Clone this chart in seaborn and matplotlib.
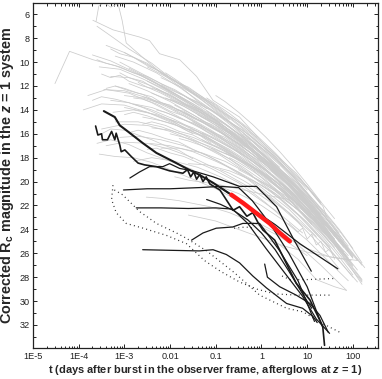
import numpy as np
import pandas as pd
import matplotlib
matplotlib.use("Agg")
import matplotlib.pyplot as plt
import seaborn as sns
from matplotlib.ticker import FixedLocator, FixedFormatter, MultipleLocator, LogLocator, NullFormatter

sns.set_style("ticks")
plt.rcParams['font.family'] = ['Liberation Sans', 'DejaVu Sans']
plt.rcParams['mathtext.fontset'] = 'custom'
plt.rcParams['mathtext.rm'] = 'Liberation Sans'
plt.rcParams['mathtext.it'] = 'Liberation Sans:italic'
plt.rcParams['mathtext.bf'] = 'Liberation Sans:bold'
plt.rcParams['mathtext.bfit'] = 'Liberation Sans:bold:italic'

# ---- data: log10(t [days]) and corrected Rc magnitude ----
gray_logt = [
    [-3.62,-3.56,-3.45,-3.30,-3.14,-3.05,-2.96,-2.60,-2.20,-1.70,-1.20],
    [-3.69,-3.25,-2.67,-2.45,-2.23,-1.79,-1.42,-1.06,-0.48,0.11,0.76,1.35,1.42],
    [-4.52,-4.20,-3.69,-3.20,-2.60,-2.00,-1.40,-0.80,-0.20,0.40],
    [-3.60,-3.30,-2.90,-2.40,-1.90,-1.30,-0.70,-0.10,0.50,1.10],
    [-3.40,-3.00,-2.50,-2.00,-1.50,-1.00,-0.40,0.20,0.80,1.30],
    [-3.20,-2.80,-2.30,-1.80,-1.20,-0.60,0.00,0.60,1.20,1.70],
    [-3.55,-3.10,-2.60,-2.10,-1.60,-1.00,-0.50,0.10,0.70,1.40],
    [-3.30,-2.90,-2.40,-1.90,-1.40,-0.90,-0.30,0.30,0.90,1.50],
    [-3.10,-2.70,-2.20,-1.70,-1.10,-0.50,0.10,0.70,1.30,1.90],
    [-2.90,-2.50,-2.00,-1.50,-1.00,-0.40,0.20,0.80,1.40,2.00],
    [-3.45,-3.00,-2.50,-2.00,-1.40,-0.80,-0.20,0.40,1.00,1.60],
    [-2.70,-2.30,-1.80,-1.30,-0.80,-0.20,0.40,1.00,1.60],
    [-2.50,-2.10,-1.60,-1.10,-0.60,0.00,0.60,1.20,1.80],
    [-3.00,-2.60,-2.10,-1.60,-1.10,-0.50,0.10,0.70,1.30],
    [-3.80,-3.40,-2.90,-2.40,-1.90,-1.30,-0.70,-0.10,0.50,1.10],
    [-2.80,-2.40,-1.90,-1.40,-0.90,-0.30,0.30,0.90,1.50,2.10],
    [-2.30,-1.90,-1.40,-0.90,-0.40,0.20,0.80,1.40],
    [-2.10,-1.70,-1.20,-0.70,-0.20,0.40,1.00,1.60],
    [-3.25,-2.80,-2.30,-1.80,-1.30,-0.70,-0.10,0.50,1.10],
    [-1.90,-1.50,-1.00,-0.50,0.00,0.60,1.20,1.80],
    [-2.60,-2.20,-1.70,-1.20,-0.70,-0.10,0.50,1.10,1.70],
    [-3.50,-3.00,-2.50,-2.00,-1.50,-0.90,-0.30,0.30,0.90,1.50],
    [-1.70,-1.30,-0.80,-0.30,0.20,0.80,1.40,2.00],
    [-2.40,-2.00,-1.50,-1.00,-0.50,0.10,0.70,1.30,1.90],
    [-1.50,-1.10,-0.60,-0.10,0.40,1.00,1.60,2.20],
    [-3.10,-2.70,-2.20,-1.70,-1.20,-0.60,0.00,0.60,1.20],
    [-2.00,-1.60,-1.10,-0.60,-0.10,0.50,1.10,1.70],
    [-1.30,-0.90,-0.40,0.10,0.60,1.20,1.80],
    [-3.40,-3.00,-2.50,-2.00,-1.50,-0.90,-0.30,0.30],
    [-2.20,-1.80,-1.30,-0.80,-0.30,0.30,0.90,1.50],
    [-1.10,-0.70,-0.20,0.30,0.80,1.40,2.00],
    [-0.80,-0.40,0.10,0.60,1.10,1.70,2.26],
    [-2.80,-2.40,-1.90,-1.40,-0.90,-0.30,0.30,0.90],
    [-1.60,-1.20,-0.70,-0.20,0.30,0.90,1.50,2.00],
    [-0.50,-0.10,0.40,0.90,1.40,1.90],
    [-0.20,0.20,0.70,1.20,1.70,2.10],
    [-3.55,-3.20,-2.80,-2.40,-2.00,-1.50,-1.00,-0.40,0.20],
    [-2.52,-2.20,-1.80,-1.40,-1.13,-0.70,-0.20,0.40,1.00],
    [-0.20,0.30,0.80,1.30,1.86],
    [0.00,0.50,1.00,1.50,1.96],
    [-1.00,-0.50,0.00,0.50,1.00,1.50,1.90],
    [-1.90,-1.57,-1.00,-0.40,0.20,0.61,1.10],
    [-1.60,-1.00,-0.50,0.00,0.50,1.00,1.50,2.10],
    [0.30,0.80,1.20,1.60,1.86],
    [-3.60,-3.30,-2.90,-2.50,-2.00,-1.50],
    [-3.00,-2.50,-2.00,-1.50,-1.00,-0.50,0.00,0.50,1.00],
    [-2.60,-2.10,-1.60,-1.10,-0.60,-0.10,0.40,0.90,1.40],
    [-3.30,-2.90,-2.40,-1.90,-1.40,-0.80,-0.20,0.40],
    [-2.00,-1.50,-1.00,-0.50,0.00,0.50,1.00,1.50],
    [-1.40,-0.90,-0.40,0.10,0.60,1.10,1.60],
    [-2.90,-2.50,-2.00,-1.50,-1.00,-0.40,0.20],
    [-3.70,-3.30,-2.80,-2.30,-1.80,-1.30],
    [-2.20,-1.70,-1.20,-0.70,-0.20,0.30,0.80,1.30],
    [-1.20,-0.70,-0.20,0.30,0.80,1.30],
    [-0.60,-0.10,0.40,0.90,1.40,1.90],
    [-2.45,-2.00,-1.50,-1.00,-0.50,0.00,0.50,1.00,1.50],
    [-3.90,-3.50,-3.00,-2.50,-2.00,-1.50],
    [-1.80,-1.30,-0.80,-0.30,0.20,0.70,1.20,1.70],
    [-3.20,-2.70,-2.20,-1.70,-1.20,-0.70,-0.20],
    [0.10,0.60,1.10,1.60,2.10],
    [-3.5,-3.3,-3.1,-2.9,-2.6,-2.3,-2.0,-1.7,-1.4,-1.1,-0.8,-0.5,-0.2,0.1,0.4,0.7,1.0,1.3],
    [-3.2,-3.0,-2.7,-2.4,-2.1,-1.8,-1.5,-1.2,-0.9,-0.6,-0.3,0.0,0.3,0.6,0.9,1.2,1.5],
    [-2.8,-2.6,-2.3,-2.0,-1.7,-1.4,-1.1,-0.8,-0.5,-0.2,0.1,0.4,0.7,1.0,1.3,1.6,1.9],
    [-3.6,-3.4,-3.1,-2.8,-2.5,-2.2,-1.9,-1.6,-1.3,-1.0,-0.7,-0.4,-0.1,0.2,0.5],
    [-2.4,-2.2,-1.9,-1.6,-1.3,-1.0,-0.7,-0.4,-0.1,0.2,0.5,0.8,1.1,1.4,1.7,2.0],
    [-1.9,-1.7,-1.4,-1.1,-0.8,-0.5,-0.2,0.1,0.4,0.7,1.0,1.3,1.6,1.9,2.2],
    [-3.0,-2.8,-2.5,-2.2,-1.9,-1.6,-1.3,-1.0,-0.7,-0.4,-0.1,0.2,0.5,0.8,1.1,1.4],
    [-2.2,-2.0,-1.7,-1.4,-1.1,-0.8,-0.5,-0.2,0.1,0.4,0.7,1.0,1.3,1.6],
    [-1.6,-1.4,-1.1,-0.8,-0.5,-0.2,0.1,0.4,0.7,1.0,1.3,1.6,1.9],
    [-3.4,-3.2,-2.9,-2.6,-2.3,-2.0,-1.7,-1.4,-1.1,-0.8,-0.5,-0.2,0.1],
    [-2.6,-2.4,-2.1,-1.8,-1.5,-1.2,-0.9,-0.6,-0.3,0.0,0.3,0.6,0.9,1.2,1.5,1.8],
    [-1.3,-1.1,-0.8,-0.5,-0.2,0.1,0.4,0.7,1.0,1.3,1.6,1.9,2.2],
    [-2.0,-1.8,-1.5,-1.2,-0.9,-0.6,-0.3,0.0,0.3,0.6,0.9,1.2,1.5,1.8],
    [-3.3,-3.1,-2.8,-2.5,-2.2,-1.9,-1.6,-1.3,-1.0,-0.7,-0.4,-0.1],
    [-2.5,-2.3,-2.0,-1.7,-1.4,-1.1,-0.8,-0.5,-0.2,0.1,0.4,0.7,1.0],
    [-1.0,-0.8,-0.5,-0.2,0.1,0.4,0.7,1.0,1.3,1.6,1.9],
    [-0.7,-0.5,-0.2,0.1,0.4,0.7,1.0,1.3,1.6,1.9,2.2],
    [-3.7,-3.5,-3.2,-2.9,-2.6,-2.3,-2.0,-1.7,-1.4,-1.1],
    [-2.9,-2.7,-2.4,-2.1,-1.8,-1.5,-1.2,-0.9,-0.6,-0.3,0.0,0.3,0.6,0.9],
    [-0.3,-0.1,0.2,0.5,0.8,1.1,1.4,1.7,2.0],
    [-1.5,-1.3,-1.0,-0.7,-0.4,-0.1,0.2,0.5,0.8,1.1,1.4,1.7],
    [-2.3,-2.1,-1.8,-1.5,-1.2,-0.9,-0.6,-0.3,0.0,0.3,0.6,0.9,1.2],
    [0.2,0.4,0.7,1.0,1.3,1.6,1.9,2.2],
    [-3.1,-2.9,-2.6,-2.3,-2.0,-1.7,-1.4,-1.1,-0.8,-0.5],
    [-1.2,-1.0,-0.7,-0.4,-0.1,0.2,0.5,0.8,1.1,1.4,1.7,2.0],
    [-0.9,-0.7,-0.4,-0.1,0.2,0.5,0.8,1.1,1.4,1.7],
    [-2.7,-2.5,-2.2,-1.9,-1.6,-1.3,-1.0,-0.7,-0.4,-0.1,0.2,0.5],
    [-1.8,-1.6,-1.3,-1.0,-0.7,-0.4,-0.1,0.2,0.5,0.8,1.1,1.4,1.7,2.0],
    [-3.5,-3.3,-3.0,-2.7,-2.4,-2.1,-1.8,-1.5],
    [0.5,0.7,1.0,1.3,1.6,1.9,2.2],
    [-2.1,-1.9,-1.6,-1.3,-1.0,-0.7,-0.4,-0.1,0.2,0.5,0.8,1.1],
    [-1.0,-0.8,-0.5,-0.2,0.1,0.4,0.7,1.0,1.3],
    [-0.4,-0.2,0.1,0.4,0.7,1.0,1.3,1.6,1.9],
    [-2.5,-2.3,-2.0,-1.7,-1.4,-1.1,-0.8,-0.5,-0.2,0.1,0.4],
    [0.0,0.2,0.5,0.8,1.1,1.4,1.7,2.0],
    [-3.0,-2.8,-2.5,-2.2,-1.9,-1.6,-1.3,-1.0,-0.7],
    [0.6,0.8,0.9,1.0,1.1,1.2,1.3,1.4,1.5,1.6],
]
gray_mag = [
    [6.6,5.3,5.0,5.4,5.1,6.5,8.4,9.6,10.9,12.3,13.9],
    [6.5,7.3,7.9,8.2,9.3,9.8,11.2,13.2,14.6,17.1,19.3,22.1,22.9],
    [11.8,9.1,9.8,10.3,11.2,12.4,13.7,15.2,16.9,18.8],
    [7.0,7.8,8.9,10.1,11.6,13.2,15.0,17.2,19.6,22.4],
    [8.6,9.2,10.2,11.3,12.6,14.0,15.9,18.1,20.5,22.8],
    [9.5,10.0,10.9,12.1,13.7,15.5,17.6,19.8,22.5,25.0],
    [10.4,10.6,11.4,12.3,13.5,15.0,16.4,18.6,21.0,24.0],
    [11.2,11.3,12.0,13.0,14.2,15.4,17.1,19.2,21.6,24.3],
    [10.0,10.8,11.8,12.8,14.3,16.0,18.0,20.3,23.0,25.8],
    [10.5,11.3,12.4,13.5,14.8,16.6,18.6,21.0,23.6,26.4],
    [12.3,12.4,13.0,13.9,15.1,16.6,18.3,20.3,22.8,25.5],
    [11.0,11.8,12.9,14.1,15.4,17.3,19.5,22.0,24.8],
    [11.6,12.4,13.4,14.6,16.0,17.9,20.0,22.6,25.5],
    [12.8,13.0,13.6,14.6,15.7,17.2,19.0,21.2,23.8],
    [12.8,12.3,12.6,13.4,14.4,15.6,17.0,18.8,21.0,23.6],
    [13.5,13.8,14.5,15.3,16.3,17.8,19.6,21.8,24.5,27.4],
    [12.2,13.0,14.1,15.3,16.6,18.6,20.9,23.7],
    [13.0,13.7,14.8,16.0,17.5,19.4,21.7,24.6],
    [14.2,14.0,14.4,15.1,16.0,17.4,19.0,21.0,23.5],
    [13.6,14.4,15.5,16.8,18.3,20.3,22.9,25.9],
    [14.6,14.9,15.5,16.3,17.3,18.8,20.6,22.8,25.6],
    [15.6,15.2,15.3,15.8,16.6,17.8,19.3,21.0,23.1,25.6],
    [14.2,15.0,16.1,17.4,18.9,20.9,23.4,26.3],
    [15.5,15.7,16.3,17.1,18.1,19.6,21.4,23.7,26.4],
    [15.0,15.8,16.9,18.2,19.7,21.6,24.2,27.0],
    [16.3,16.2,16.5,17.0,17.8,19.0,20.5,22.3,24.6],
    [16.0,16.4,17.1,18.0,19.2,20.9,23.0,25.7],
    [15.9,16.7,17.8,19.1,20.6,22.7,25.3],
    [17.0,16.7,16.8,17.3,18.0,19.1,20.4,22.0],
    [17.2,17.2,17.6,18.3,19.3,20.8,22.7,25.1],
    [17.2,17.8,18.8,20.0,21.5,23.6,26.2],
    [17.6,18.3,19.4,20.7,22.3,24.6,27.2],
    [18.3,18.0,18.3,18.8,19.6,20.8,22.4,24.3],
    [18.5,18.6,19.1,19.9,21.0,22.6,24.8,27.0],
    [19.0,19.8,21.0,22.4,24.1,26.2],
    [19.6,20.4,21.6,23.0,24.8,26.6],
    [17.7,17.9,18.0,18.4,19.0,19.8,20.6,21.8,23.4],
    [21.3,21.4,21.6,21.9,22.1,22.6,23.4,24.6,26.2],
    [22.5,23.8,25.3,27.0,29.1],
    [23.6,24.6,25.6,26.3,26.6],
    [20.3,21.0,22.0,23.3,24.9,26.8,28.3],
    [19.6,19.9,20.2,20.7,21.2,21.5,22.8],
    [22.8,23.3,24.0,24.7,25.4,25.9,26.3,26.6],
    [25.0,26.5,28.2,28.8,29.1],
    [16.8,16.5,16.9,17.6,18.3,19.0],
    [13.8,14.2,14.9,15.8,16.8,17.9,19.2,20.8,22.6],
    [12.9,13.5,14.4,15.4,16.6,18.0,19.6,21.5,23.6],
    [13.2,13.4,14.0,14.8,15.8,17.3,19.0,21.0],
    [14.8,15.5,16.4,17.5,18.8,20.4,22.3,24.5],
    [14.4,15.5,16.7,18.2,19.9,21.9,24.3],
    [11.8,12.4,13.3,14.4,15.6,17.3,19.3],
    [9.4,9.9,10.8,11.8,12.9,14.1],
    [11.3,12.2,13.3,14.6,16.1,17.9,20.0,22.5],
    [13.0,14.3,15.8,17.6,19.6,21.8],
    [16.2,17.6,19.1,20.9,23.0,25.4],
    [16.8,17.0,17.5,18.3,19.2,20.3,21.7,23.4,25.5],
    [14.0,13.5,13.6,14.2,15.0,16.0],
    [12.6,13.6,14.8,16.2,17.8,19.6,21.8,24.3],
    [15.0,15.0,15.4,16.1,17.0,18.1,19.5],
    [21.2,22.6,24.3,26.2,28.4],
    [11.0,11.3,11.1,11.6,12.0,12.3,12.9,13.5,13.9,14.6,15.2,16.0,16.6,17.5,18.4,19.5,20.5,21.9],
    [12.0,12.2,12.6,12.9,13.6,14.0,14.7,15.2,15.8,16.6,17.2,18.1,19.0,19.9,21.0,22.1,23.5],
    [13.0,13.1,13.5,14.1,14.5,15.2,15.8,16.3,17.1,17.9,18.6,19.6,20.6,21.7,22.9,24.3,25.9],
    [9.8,10.1,10.4,10.9,11.2,11.8,12.3,13.0,13.5,14.2,15.0,15.7,16.7,17.6,18.8],
    [12.6,12.9,13.3,13.9,14.6,15.1,15.9,16.5,17.4,18.3,19.3,20.2,21.4,22.6,24.0,25.6],
    [14.0,14.1,14.8,15.2,15.9,16.7,17.4,18.2,19.2,20.1,21.2,22.3,23.6,25.1,26.8],
    [14.4,14.2,14.5,14.9,15.2,15.8,16.2,16.9,17.5,18.3,19.0,19.9,20.8,21.9,23.0,24.4],
    [11.9,12.3,12.8,13.5,14.0,14.8,15.5,16.3,17.3,18.2,19.3,20.4,21.7,23.1],
    [15.6,15.8,16.3,16.9,17.5,18.3,19.1,20.0,21.1,22.2,23.5,24.9,26.5],
    [12.2,12.0,12.4,12.7,13.3,13.6,14.3,14.8,15.5,16.1,16.9,17.7,18.6],
    [15.2,15.0,15.3,15.8,16.1,16.7,17.2,17.9,18.5,19.4,20.2,21.2,22.2,23.4,24.7,26.1],
    [16.5,16.9,17.4,18.1,18.8,19.6,20.6,21.6,22.7,24.0,25.3,26.8,28.3],
    [13.1,13.4,13.9,14.4,15.2,15.9,16.7,17.6,18.6,19.6,20.8,22.0,23.4,24.9],
    [8.9,9.3,9.6,10.3,10.8,11.6,12.1,12.9,13.6,14.5,15.3,16.3],
    [10.4,10.8,11.4,12.0,12.8,13.4,14.3,15.0,16.0,17.0,18.1,19.4,20.7],
    [15.3,15.9,16.6,17.5,18.4,19.5,20.6,21.9,23.3,24.9,26.6],
    [18.0,18.4,19.1,19.9,20.9,21.9,23.0,24.2,25.6,27.0,28.4],
    [13.2,12.9,13.1,13.4,13.8,14.3,14.8,15.5,16.0,16.8],
    [15.9,15.7,16.0,16.4,16.7,17.3,17.8,18.4,19.1,19.8,20.7,21.6,22.6,23.8],
    [18.6,19.0,19.7,20.6,21.7,22.8,24.1,25.5,27.1],
    [13.9,14.3,14.9,15.7,16.5,17.4,18.4,19.5,20.7,22.0,23.4,25.0],
    [14.0,14.2,14.7,15.1,15.8,16.4,17.1,17.9,18.8,19.7,20.8,21.9,23.2],
    [20.0,20.6,21.5,22.6,23.8,25.2,26.7,28.2],
    [10.9,11.3,11.6,12.3,12.7,13.4,14.0,14.9,15.6,16.6],
    [14.1,14.6,15.4,16.3,17.2,18.3,19.4,20.6,21.8,23.2,24.7,26.4],
    [19.0,19.3,19.9,20.6,21.4,22.4,23.4,24.6,25.9,27.3],
    [11.7,12.1,12.6,13.2,13.8,14.5,15.1,15.9,16.8,17.7,18.7,19.8],
    [16.4,16.6,17.0,17.5,18.1,18.8,19.6,20.4,21.4,22.4,23.6,24.9,26.3,27.8],
    [16.0,15.6,15.7,16.1,16.5,17.0,17.4,18.1],
    [21.0,21.6,22.6,23.9,25.3,26.9,28.6],
    [10.9,11.4,12.2,12.9,13.8,14.7,15.6,16.6,17.7,18.8,20.1,21.4],
    [12.8,13.3,14.2,15.2,16.3,17.5,18.8,20.2,21.7],
    [16.0,16.6,17.6,18.6,19.8,21.1,22.5,24.0,25.7],
    [17.3,17.2,17.6,17.9,18.4,18.9,19.5,20.1,20.9,21.8,22.8],
    [20.3,20.8,21.8,22.8,24.0,25.2,26.6,28.0],
    [9.2,9.6,10.1,10.9,11.5,12.3,13.0,13.9,14.8],
    [23.5,24.2,23.9,24.8,24.4,25.3,25.0,25.9,25.6,26.5],
]

black_logt = [
    [-3.45,-3.21,-3.10,-2.96,-2.59,-2.30,-1.94,-1.64,-1.35,-1.06,-0.70],
    [-3.63,-3.58,-3.50,-3.48,-3.37,-3.28,-3.21,-3.18,-3.10,-3.07,-2.99,-2.85,-2.70,-2.56,-2.30,-2.01,
     -1.72,-1.62,-1.55,-1.48,-1.42,-1.35,-1.28,-1.21,-1.13,-0.91,-0.62,-0.48,-0.32,-0.19,-0.08,0.03,
     0.29,0.76,1.06,1.34,1.38],
    [-0.90,-0.40,0.30,0.84,1.67],
    [-2.88,-2.67,-2.45,-2.16,-2.01,-1.79,-1.50,-1.06,-0.48,-0.11,0.33,0.70,1.09],
    [-3.02,-2.50,-2.00,-1.35,-0.90,-0.50,-0.20,0.20,0.60,1.00,1.34],
    [-2.74,-2.20,-1.60,-1.00,-0.63,-0.30,0.10,0.50,0.90,1.20,1.49],
    [-2.60,-2.00,-1.36,-1.06,-0.77,-0.48,-0.19,0.11,0.55,0.90,1.13,1.22],
    [-1.53,-1.28,-0.99,-0.63,-0.41,-0.04,0.40,0.80,1.16],
    [0.07,0.13,0.40,0.76,1.06,1.28,1.46],
    [-1.20,-0.90,-0.62,-0.30,0.00,0.30,0.60,0.90,1.10],
]
black_mag = [
    [14.1,14.6,15.3,15.7,16.8,17.6,18.3,18.9,19.45,20.1,21.0],
    [15.35,16.1,16.0,16.5,16.5,15.8,16.5,15.95,16.95,17.5,17.35,17.9,18.45,18.6,18.75,19.1,
     19.3,19.0,19.6,19.2,19.8,19.4,20.0,19.6,20.2,20.7,22.4,22.1,22.9,22.6,23.4,24.05,
     24.9,28.5,29.9,32.1,33.7],
    [20.5,21.8,23.6,25.2,27.3],
    [19.7,19.2,18.75,18.75,18.5,18.9,19.1,19.6,20.4,20.4,22.1,24.8,27.5],
    [20.7,20.6,20.6,20.5,20.4,20.5,21.6,23.6,26.0,28.8,32.2],
    [22.2,22.2,22.25,22.2,22.3,23.5,25.6,27.6,29.6,31.5,32.7],
    [25.7,25.75,25.8,25.7,26.1,26.8,27.9,28.9,30.2,30.6,31.3,31.8],
    [24.9,24.3,23.9,23.8,23.5,23.5,25.8,28.3,31.7],
    [26.9,28.0,28.8,29.5,30.2,31.2,32.6],
    [21.5,21.9,22.4,23.2,24.3,25.7,27.5,29.4,30.6],
]
black_width = [1.5, 1.2, 0.9, 0.9, 0.9, 0.9, 0.9, 0.9, 0.9, 0.9]

dotted_logt = [
    [-3.25,-3.28,-3.18,-2.96,-2.59,-2.08,-1.64,-1.25,-0.90,-0.48,-0.10,0.30,0.80,1.53],
    [-3.22,-3.04,-2.88,-2.67,-2.52,-2.30,-2.08,-1.86,-1.64,-1.20,-0.60,-0.04,0.55,0.91,1.35,1.71],
    [0.45,0.62,1.00,1.64],
    [-0.60,-0.35,-0.15],
]
dotted_mag = [
    [20.3,21.5,22.6,23.5,23.9,24.5,25.2,26.6,27.5,28.4,29.0,29.4,29.5,29.5],
    [20.7,21.1,21.7,22.5,22.9,23.5,23.9,24.3,24.75,25.8,27.6,29.5,30.6,30.9,31.9,32.6],
    [27.9,28.2,28.2,28.1],
    [23.9,23.8,23.9],
]

red_logt = [-0.66, -0.40, -0.11, 0.18, 0.40, 0.62]
red_mag = [21.1, 21.8, 22.65, 23.5, 24.3, 25.0]

xtick_vals = [1e-5, 1e-4, 1e-3, 1e-2, 1e-1, 1, 10, 100]
xtick_labels = ["1E-5", "1E-4", "1E-3", "0.01", "0.1", "1", "10", "100"]
ytick_vals = [6, 8, 10, 12, 14, 16, 18, 20, 22, 24, 26, 28, 30, 32]


def to_frame(logts, mags):
    rows = []
    for i, (lt, m) in enumerate(zip(logts, mags)):
        for a, b in zip(lt, m):
            rows.append((i, 10.0 ** a, b))
    return pd.DataFrame(rows, columns=["curve", "t", "mag"])


W, H = 382, 379
fig = plt.figure(figsize=(W / 100, H / 100), dpi=100)
x0, x1, y0, y1 = 33.0, 378.0, 2.7, 348.3
ax = fig.add_axes([x0 / W, 1 - y1 / H, (x1 - x0) / W, (y1 - y0) / H])
ax.set_xscale("log")

gdf = to_frame(gray_logt, gray_mag)
sns.lineplot(data=gdf, x="t", y="mag", units="curve", estimator=None, sort=False,
             color="#cbcbcb", lw=0.55, ax=ax)

ddf = to_frame(dotted_logt, dotted_mag)
sns.lineplot(data=ddf, x="t", y="mag", units="curve", estimator=None, sort=False,
             color="#333333", lw=0.9, ls=(0, (0.8, 2.6)), ax=ax)

for i, (lt, m) in enumerate(zip(black_logt, black_mag)):
    bdf = pd.DataFrame({"t": [10.0 ** a for a in lt], "mag": m})
    sns.lineplot(data=bdf, x="t", y="mag", estimator=None, sort=False,
                 color="#1a1a1a", lw=black_width[i], ax=ax)

rdf = pd.DataFrame({"t": [10.0 ** a for a in red_logt], "mag": red_mag})
sns.lineplot(data=rdf, x="t", y="mag", estimator=None, sort=False,
             color="#ff1a1a", lw=3.2, solid_capstyle="round", ax=ax)

ax.set_xlim(1e-5, 10 ** 2.55)
ax.set_ylim(33.95, 5.03)

ax.xaxis.set_major_locator(FixedLocator(xtick_vals))
ax.xaxis.set_major_formatter(FixedFormatter(xtick_labels))
ax.xaxis.set_minor_locator(LogLocator(base=10, subs=np.arange(2, 10), numticks=20))
ax.xaxis.set_minor_formatter(NullFormatter())
ax.yaxis.set_major_locator(FixedLocator(ytick_vals))
ax.yaxis.set_minor_locator(MultipleLocator(1))

ax.tick_params(which="both", direction="in", top=True, right=True, colors="#222222",
               labelsize=6.6, width=0.7, pad=2.5)
ax.tick_params(which="major", length=3.2)
ax.tick_params(which="minor", length=1.8)
for s in ax.spines.values():
    s.set_visible(True)
    s.set_linewidth(0.9)
    s.set_color("#222222")

ax.set_xlabel(r"t (days after burst in the observer frame, afterglows at $\mathbfit{z}$ = 1)",
              fontsize=7.9, fontweight="bold", labelpad=1.5)
ax.set_ylabel(r"Corrected R$_\mathbf{c}$ magnitude in the $\mathbfit{z}$ = 1 system",
              fontsize=10.4, fontweight="bold", labelpad=2)

fig.savefig("out.png", dpi=100)
